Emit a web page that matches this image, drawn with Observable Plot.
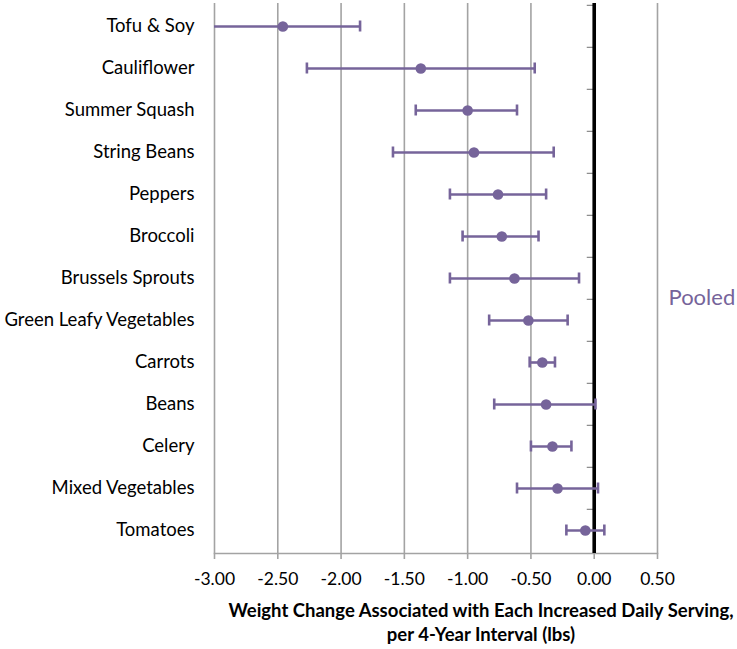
<!DOCTYPE html>
<html>
<head>
<meta charset="utf-8">
<script src="https://cdn.jsdelivr.net/npm/d3@7"></script>
<script src="https://cdn.jsdelivr.net/npm/@observablehq/plot@0.6"></script>
<style>
  html, body { margin: 0; padding: 0; background: #fff; }
</style>
</head>
<body>
<div id="chart"></div>
<script>
const categories = ["Tofu & Soy", "Cauliflower", "Summer Squash", "String Beans", "Peppers", "Broccoli",
  "Brussels Sprouts", "Green Leafy Vegetables", "Carrots", "Beans", "Celery", "Mixed Vegetables", "Tomatoes"];
const estimate = [-2.46, -1.37, -1.00, -0.95, -0.76, -0.73, -0.63, -0.52, -0.41, -0.38, -0.33, -0.29, -0.07];
const lower =    [-3.07, -2.27, -1.41, -1.59, -1.14, -1.04, -1.14, -0.83, -0.51, -0.79, -0.50, -0.61, -0.22];
const upper =    [-1.85, -0.47, -0.61, -0.32, -0.38, -0.44, -0.12, -0.21, -0.31, 0.01, -0.18, 0.03, 0.08];
const xTicks = [-3.0, -2.5, -2.0, -1.5, -1.0, -0.5, 0.0, 0.5];
const xTitle = "Weight Change Associated with Each Increased Daily Serving,\nper 4-Year Interval (lbs)";
const legendLabel = "Pooled";

const rows = categories.map((c, i) => ({cat: c, est: estimate[i], lo: lower[i], hi: upper[i]}));

const purple = "#76649a";
const grid = "#a3a3a3";
const H = 649, MT = 3, MB = 96;
const band = (H - MT - MB) / categories.length;

const chart = Plot.plot({
  width: 737,
  height: H,
  marginLeft: 214,
  marginRight: 80,
  marginTop: MT,
  marginBottom: MB,
  style: {fontFamily: "Lato, 'Open Sans', sans-serif", background: "#fff", color: "#000"},
  x: {domain: [-3, 0.5]},
  y: {domain: categories, padding: 0},
  marks: [
    Plot.gridX(xTicks, {stroke: grid, strokeOpacity: 1, strokeWidth: 1.6}),
    Plot.frame({anchor: "bottom", stroke: grid, strokeWidth: 1.6}),
    Plot.axisX({ticks: xTicks, tickFormat: d => d.toFixed(2), tickSize: 6, tickPadding: 13,
      label: null, fontSize: 17.5, stroke: grid, strokeWidth: 1.6, fill: "#000"}),
    Plot.axisY({tickSize: 0, tickPadding: 20, label: null, fontSize: 18.5, fill: "#000"}),
    Plot.ruleY(categories, {y: d => d, x1: -0.055, x2: 0, dy: -band / 2, stroke: "#888", strokeWidth: 1.2}),
    Plot.ruleX([0], {stroke: "#000", strokeWidth: 3.6}),
    Plot.ruleY(rows, {y: "cat", x1: "lo", x2: "hi", stroke: purple, strokeWidth: 2.6, clip: true}),
    Plot.tickX(rows, {x: "lo", y: "cat", inset: 15.5, stroke: purple, strokeWidth: 2.6, clip: true}),
    Plot.tickX(rows, {x: "hi", y: "cat", inset: 15.5, stroke: purple, strokeWidth: 2.6, clip: true}),
    Plot.dot(rows, {x: "est", y: "cat", r: 5.3, fill: purple, stroke: "none"}),
    Plot.text([legendLabel], {frameAnchor: "right", dx: 11, dy: 19, textAnchor: "start",
      fill: purple, fontSize: 22}),
    Plot.text([xTitle], {frameAnchor: "bottom", lineAnchor: "middle", dx: 45, dy: 67.5, fontWeight: "bold",
      fontSize: 18.5, lineHeight: 1.3, fill: "#000"})
  ]
});
document.getElementById("chart").appendChild(chart);
</script>
</body>
</html>
